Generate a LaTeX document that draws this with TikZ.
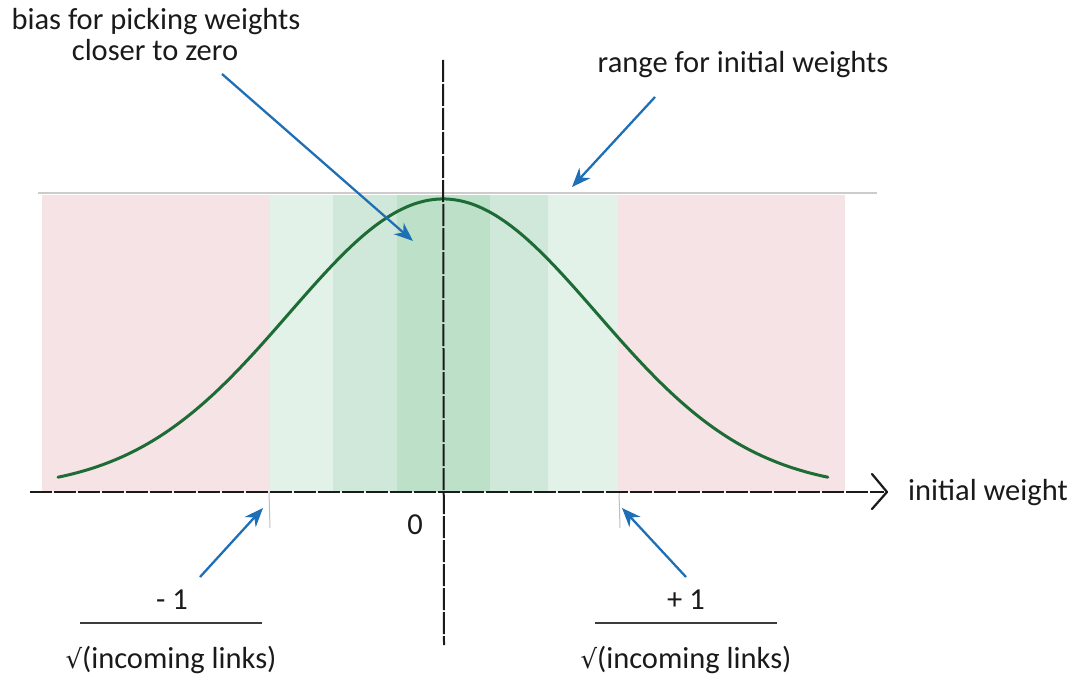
\documentclass[tikz,border=0pt]{standalone}
\usepackage{fontspec}
\setmainfont{Carlito}
\newfontfamily\symfont{DejaVu Sans}
\usetikzlibrary{arrows.meta}
\definecolor{pinkbg}{HTML}{F6E3E5}
\definecolor{gA}{HTML}{E2F2E8}
\definecolor{gB}{HTML}{CFE8D9}
\definecolor{gC}{HTML}{BDE0C8}
\definecolor{curvegreen}{HTML}{1D6B35}
\definecolor{arrowblue}{HTML}{1F6FB7}
\definecolor{inkc}{HTML}{1A1A1A}
\tikzset{
  lbl/.style={text=inkc,font=\fontsize{30.5}{34}\selectfont,inner sep=0pt},
  pointer/.style={draw=arrowblue,line width=2.3pt,-{Stealth[length=19pt,width=15pt]}},
  axisline/.style={draw=inkc,line width=2pt,dash pattern=on 22pt off 2pt},
  tickline/.style={draw=black!25,line width=1pt},
  fracline/.style={draw=inkc!85,line width=1.4pt},
}
\begin{document}
\begin{tikzpicture}[x=1pt,y=-1pt]
\useasboundingbox (0,0) rectangle (1081,674);
% background bands
\fill[pinkbg] (42,195) rectangle (845,492);
\fill[gA] (270,195) rectangle (618,492);
\fill[gB] (333,195) rectangle (548,492);
\fill[gC] (397,195) rectangle (490,492);
% top range line
\coordinate (topL) at (38,193);
\coordinate (topR) at (877,193);
\draw[draw=black!20,line width=1.6pt] (topL) -- (topR);
% ticks
\coordinate (tlA) at (269,492); \coordinate (tlB) at (270,528);
\coordinate (trA) at (619,492); \coordinate (trB) at (620,528);
\draw[tickline] (tlA) -- (tlB);
\draw[tickline] (trA) -- (trB);
% gaussian curve
\draw[curvegreen,line width=3pt,line cap=round] plot[domain=-2.5:2.5,samples=120,smooth]
  ({443+154*\x},{490-291*exp(-\x*\x/2)});
% axes
\coordinate (xL) at (30,492);
\coordinate (xR) at (884,492);
\coordinate (yT) at (443,60);
\coordinate (yB) at (444,645);
\draw[axisline] (xL) -- (xR);
\draw[axisline] (yT) -- (yB);
\coordinate (chevU) at (872,474);
\coordinate (chevD) at (872,509);
\coordinate (chevT) at (887,492);
\draw[inkc,line width=2.2pt,line join=round,line cap=round] (chevU) -- (chevT) -- (chevD);
% labels
\node[lbl] (bias1) at (156,22) {bias for picking weights};
\node[lbl] (bias2) at (155,50) {closer to zero};
\node[lbl] (range) at (743,65) {range for initial weights};
\node[lbl,anchor=west] (xlab) at (908,493) {initial weight};
\node[lbl] (zero) at (415,525) {0};
\node[lbl] (mone) at (172,600) {- 1};
\node[lbl] (pone) at (686,600) {+ 1};
\node[lbl] (sqL) at (171,660) {{\symfont\fontsize{26}{30}\selectfont √}(incoming links)};
\node[lbl] (sqR) at (686,660) {{\symfont\fontsize{26}{30}\selectfont √}(incoming links)};
% fraction lines
\coordinate (fLa) at (80,623); \coordinate (fLb) at (262,623);
\coordinate (fRa) at (595,623); \coordinate (fRb) at (777,623);
\draw[fracline] (fLa) -- (fLb);
\draw[fracline] (fRa) -- (fRb);
% pointers
\coordinate (p1s) at (222,74); \coordinate (p1e) at (413,241);
\coordinate (p2s) at (655,97); \coordinate (p2e) at (572,187);
\coordinate (p3s) at (200,577); \coordinate (p3e) at (263,508);
\coordinate (p4s) at (686,577); \coordinate (p4e) at (622,508);
\draw[pointer] (p1s) -- (p1e);
\draw[pointer] (p2s) -- (p2e);
\draw[pointer] (p3s) -- (p3e);
\draw[pointer] (p4s) -- (p4e);
\end{tikzpicture}
\end{document}
